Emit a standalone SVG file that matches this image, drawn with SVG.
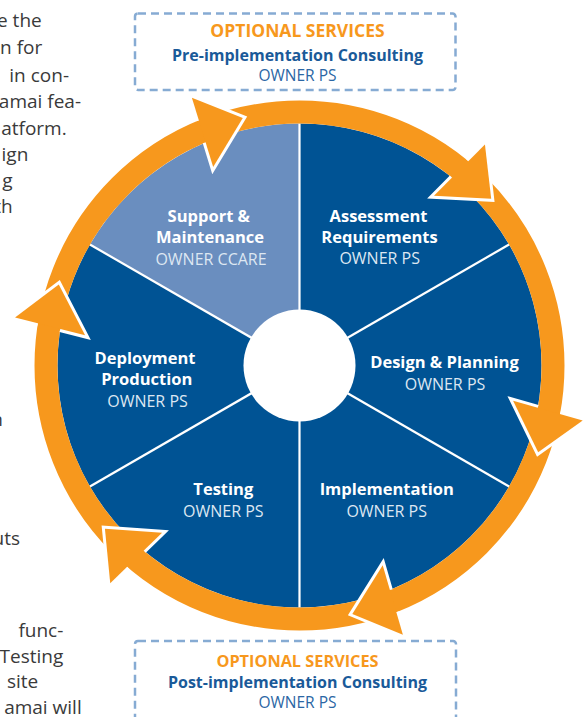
<svg xmlns="http://www.w3.org/2000/svg" width="585" height="717" viewBox="0 0 585 717">
<style>
.body{font-family:"Open Sans","Noto Sans",sans-serif;font-size:19px;fill:#3a3a3a;text-anchor:end}
.lbl{font-family:"Open Sans","Noto Sans",sans-serif;font-size:16.5px;font-weight:bold;fill:#ffffff;text-anchor:middle}
.own{font-family:"Open Sans","Noto Sans",sans-serif;font-size:16px;fill:#dde7f2;text-anchor:middle}
.opt{font-family:"Open Sans","Noto Sans",sans-serif;font-weight:bold;fill:#f7981d;text-anchor:middle}
.svc{font-family:"Open Sans","Noto Sans",sans-serif;font-size:16px;font-weight:bold;fill:#1a5a99;text-anchor:middle}
.bown{font-family:"Open Sans","Noto Sans",sans-serif;font-size:15.5px;fill:#2b66a4;text-anchor:middle}
.box{fill:none;stroke:#86abd3;stroke-width:2.5;stroke-dasharray:8 5}
.dark{fill:#005394}
.light{fill:#6a8ebf}
.div{stroke:#ffffff;stroke-width:2.2}
.ring{fill:none;stroke:#f7981d;stroke-width:23}
.hw{fill:none;stroke:#ffffff;stroke-width:6;stroke-linejoin:miter;stroke-miterlimit:10}
.hf{fill:#f7981d}
</style>

<g id="page-text">
<text class="body" x="41.7" y="27">e the</text>
<text class="body" x="42.3" y="54">n for</text>
<text class="body" x="69" y="81.5">in con-</text>
<text class="body" x="81" y="108">amai fea-</text>
<text class="body" x="66.7" y="135">atform.</text>
<text class="body" x="28.3" y="161">ign</text>
<text class="body" x="12.7" y="187">g</text>
<text class="body" x="12.7" y="213">th</text>
<text class="body" x="3" y="426">n</text>
<text class="body" x="20" y="545">uts</text>
<text class="body" x="63.3" y="636.5">func-</text>
<text class="body" x="63.3" y="662.5">Testing</text>
<text class="body" x="38.3" y="688">site</text>
<text class="body" x="81.7" y="713.5">amai will</text>
</g>

<g id="pre-consulting">
<rect class="box" x="135" y="13.5" width="320.5" height="76.5" rx="3"/>
<text class="opt" x="297.5" y="37.3" font-size="17.5">OPTIONAL SERVICES</text>
<text class="svc" x="297.5" y="61">Pre-implementation Consulting</text>
<text class="bown" x="297.5" y="80.7">OWNER PS</text>
</g>

<g id="post-consulting">
<rect class="box" x="135" y="641" width="321" height="100" rx="3"/>
<text class="opt" x="297.5" y="666.7" font-size="16.3">OPTIONAL SERVICES</text>
<text class="svc" x="297.5" y="687.7">Post-implementation Consulting</text>
<text class="bown" x="297.5" y="708.3">OWNER PS</text>
</g>

<g id="assessment">
<path class="dark" d="M299.5,365.5 L299.5,123.5 A242,242 0 0 1 509.08,244.5 Z"/>
<text class="lbl" x="378.5" y="221.7">Assessment</text>
<text class="lbl" x="379.5" y="242.5">Requirements</text>
<text class="own" x="379.7" y="264.3">OWNER PS</text>
</g>

<g id="design-planning">
<path class="dark" d="M299.5,365.5 L509.08,244.5 A242,242 0 0 1 509.08,486.5 Z"/>
<text class="lbl" x="444.5" y="368.3">Design &amp; Planning</text>
<text class="own" x="445" y="390">OWNER PS</text>
</g>

<g id="implementation">
<path class="dark" d="M299.5,365.5 L509.08,486.5 A242,242 0 0 1 299.5,607.5 Z"/>
<text class="lbl" x="386.7" y="495">Implementation</text>
<text class="own" x="386.7" y="516.7">OWNER PS</text>
</g>

<g id="testing">
<path class="dark" d="M299.5,365.5 L299.5,607.5 A242,242 0 0 1 89.92,486.5 Z"/>
<text class="lbl" x="223.3" y="495">Testing</text>
<text class="own" x="223.3" y="516.7">OWNER PS</text>
</g>

<g id="deployment">
<path class="dark" d="M299.5,365.5 L89.92,486.5 A242,242 0 0 1 89.92,244.5 Z"/>
<text class="lbl" x="145" y="364">Deployment</text>
<text class="lbl" x="146.8" y="385">Production</text>
<text class="own" x="147.5" y="406.7">OWNER PS</text>
</g>

<g id="support-maintenance">
<path class="light" d="M299.5,365.5 L89.92,244.5 A242,242 0 0 1 299.5,123.5 Z"/>
<text class="lbl" x="208.8" y="222.3">Support &amp;</text>
<text class="lbl" x="210" y="243.3">Maintenance</text>
<text class="own" x="211" y="265" fill="#e8eef6">OWNER CCARE</text>
</g>

<g id="hub">
<line class="div" x1="299.5" y1="365.5" x2="299.5" y2="123.5"/>
<line class="div" x1="299.5" y1="365.5" x2="509.08" y2="244.5"/>
<line class="div" x1="299.5" y1="365.5" x2="509.08" y2="486.5"/>
<line class="div" x1="299.5" y1="365.5" x2="299.5" y2="607.5"/>
<line class="div" x1="299.5" y1="365.5" x2="89.92" y2="486.5"/>
<line class="div" x1="299.5" y1="365.5" x2="89.92" y2="244.5"/>
<circle cx="299.5" cy="365.5" r="56" fill="#ffffff"/>
</g>

<g id="connectors">
<circle class="ring" cx="299.5" cy="365.5" r="253.5"/>
<polyline class="hw" points="198.84,120.39 191.89,97.82 242.79,117.91 213.17,166.96 205.63,142.47"/>
<polygon class="hf" points="191.89,97.82 242.79,117.91 213.17,166.96"/>
<polyline class="hw" points="468.31,161.25 484.94,144.5 491.2,198.86 433.98,195.83 452.03,177.65"/>
<polygon class="hf" points="484.94,144.5 491.2,198.86 433.98,195.83"/>
<polyline class="hw" points="559.98,414.12 582.7,420.55 538.18,452.37 513.09,400.86 537.75,407.83"/>
<polygon class="hf" points="582.7,420.55 538.18,452.37 513.09,400.86"/>
<polyline class="hw" points="396.3,612.17 402.89,634.84 352.31,613.95 382.7,565.37 389.85,589.98"/>
<polygon class="hf" points="402.89,634.84 352.31,613.95 382.7,565.37"/>
<polyline class="hw" points="127.15,566.76 110.23,583.23 104.93,528.77 162.06,532.78 143.7,550.65"/>
<polygon class="hf" points="110.23,583.23 104.93,528.77 162.06,532.78"/>
<polyline class="hw" points="37.91,323.26 15.04,317.39 58.77,284.48 85.11,335.37 60.29,329"/>
<polygon class="hf" points="15.04,317.39 58.77,284.48 85.11,335.37"/>
</g>
</svg>
